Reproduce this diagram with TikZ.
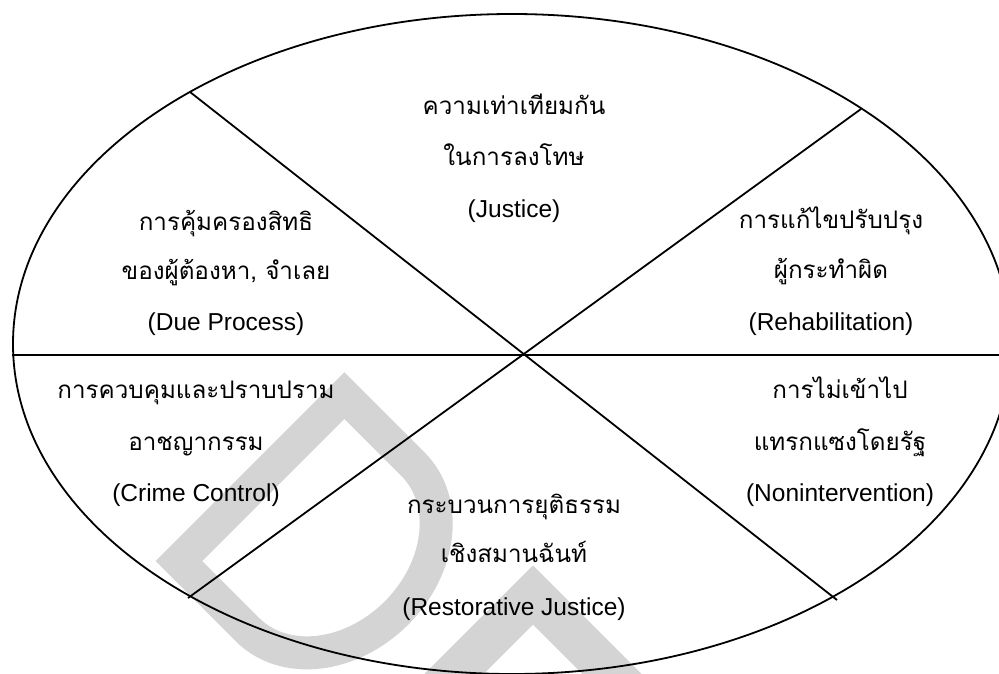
\documentclass[tikz,border=0pt]{standalone}
\usepackage{fontspec}
\setmainfont{Liberation Sans}
\newfontfamily\thaifont[Script=Thai]{Loma}
\definecolor{wm}{RGB}{212,212,212}
\begin{document}
\begin{tikzpicture}[x=1pt,y=-1pt,
  thai/.style={anchor=base, inner sep=0pt, font=\thaifont\fontsize{24.2}{28}\selectfont},
  latin/.style={anchor=base, inner sep=0pt, font=\fontsize{24.5}{28}\selectfont},
  sep/.style={line width=1.8pt, black},
  water/.style={draw=wm, line join=miter}
]
\useasboundingbox (0,0) rectangle (999,674);
\clip (0,0) rectangle (999,674);
\fill[white] (0,0) rectangle (999,674);
% watermark
\begin{scope}[shift={(343pt,-373pt)}, x={(0.7071pt,-0.7071pt)}, y={(-0.7071pt,-0.7071pt)}]
\draw[water, line width=33pt] (17,15) -- (114,15) arc[start angle=-90, end angle=90, x radius=93.5, y radius=117] -- (17,249) -- cycle;
\end{scope}
\coordinate (w1) at (413,715);
\coordinate (w2) at (533,595);
\coordinate (w3) at (653,715);
\draw[water, line width=42pt] (w1) -- (w2) -- (w3);
% oval and dividers
\draw[sep] (512,344) ellipse [x radius=499, y radius=330];
\coordinate (A) at (190,92);
\coordinate (B) at (837,600);
\coordinate (C) at (861,109);
\coordinate (D) at (188,598);
\coordinate (L) at (12,355);
\coordinate (R) at (1005,355);
\draw[sep] (A) -- (B);
\draw[sep] (C) -- (D);
\draw[sep] (L) -- (R);
% texts
\node[thai] (j1) at (514,115) {ความเท่าเทียมกัน};
\node[thai] (j2) at (514,165) {ในการลงโทษ};
\node[latin] (j3) at (514,217) {(Justice)};
\node[thai] (d1) at (226,230) {การคุ้มครองสิทธิ};
\node[thai] (d2) at (226,279) {ของผู้ต้องหา, จำเลย};
\node[latin] (d3) at (226,330) {(Due Process)};
\node[thai] (r1) at (831,228) {การแก้ไขปรับปรุง};
\node[thai] (r2) at (831,278) {ผู้กระทำผิด};
\node[latin] (r3) at (831,330) {(Rehabilitation)};
\node[thai] (c1) at (196,398) {การควบคุมและปราบปราม};
\node[thai] (c2) at (196,450) {อาชญากรรม};
\node[latin] (c3) at (196,501) {(Crime Control)};
\node[thai] (n1) at (840,398) {การไม่เข้าไป};
\node[thai] (n2) at (840,450) {แทรกแซงโดยรัฐ};
\node[latin] (n3) at (840,501) {(Nonintervention)};
\node[thai] (s1) at (514,513) {กระบวนการยุติธรรม};
\node[thai] (s2) at (514,562) {เชิงสมานฉันท์};
\node[latin] (s3) at (514,615) {(Restorative Justice)};
\end{tikzpicture}
\end{document}
